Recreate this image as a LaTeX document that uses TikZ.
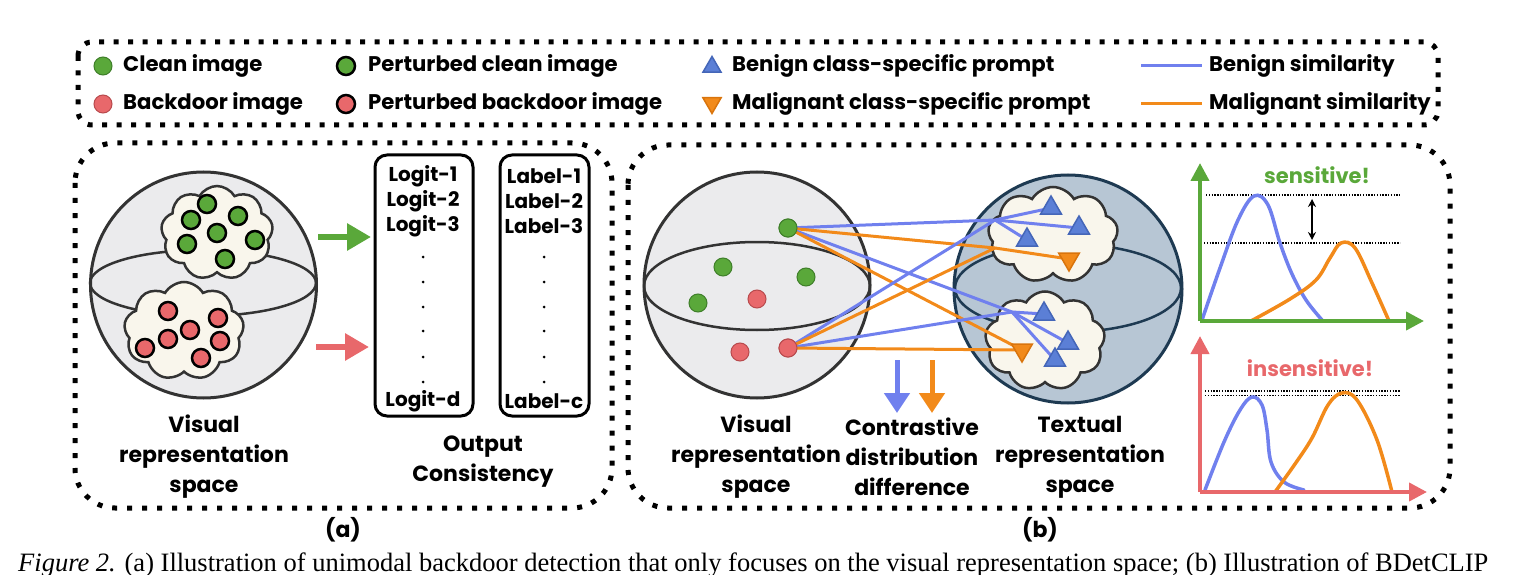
\documentclass[tikz,border=0pt]{standalone}
\usepackage{fontspec}
\setmainfont{Poppins}
\newfontfamily\capfont{Liberation Serif}
\usetikzlibrary{shapes.symbols,shapes.geometric,arrows.meta}
\definecolor{cgreen}{HTML}{5AA83A}
\definecolor{cgreenE}{HTML}{3F7F2A}
\definecolor{cred}{HTML}{E8686B}
\definecolor{credE}{HTML}{B84A4D}
\definecolor{cblue}{HTML}{7080EE}
\definecolor{corange}{HTML}{F28A1A}
\definecolor{tblue}{HTML}{5B7FD6}
\definecolor{tblueE}{HTML}{4466B8}
\definecolor{torangeE}{HTML}{D9740C}
\definecolor{sgray}{HTML}{EBEBED}
\definecolor{edgec}{HTML}{333333}
\definecolor{tsph}{HTML}{B7C6D4}
\definecolor{tsphE}{HTML}{1E3A52}
\definecolor{cloudc}{HTML}{F9F6EC}
\begin{document}
\begin{tikzpicture}[x=1pt,y=-1pt,
  frame/.style={draw=black,line width=5pt,dash pattern=on 5pt off 10pt,rounded corners=40pt},
  lframe/.style={draw=black,line width=5pt,dash pattern=on 5pt off 9.5pt,rounded corners=14pt},
  sphere/.style={circle,draw=edgec,fill=sgray,line width=3pt,minimum size=226pt,inner sep=0pt},
  tsphere/.style={circle,draw=tsphE,fill=tsph,line width=3pt,minimum size=228pt,inner sep=0pt},
  cloudn/.style={cloud,cloud puffs=9,cloud puff arc=120,draw=edgec,fill=cloudc,line width=2.5pt,inner sep=0pt},
  gdot/.style={circle,fill=cgreen,draw=cgreenE,line width=1pt,minimum size=18pt,inner sep=0pt},
  rdot/.style={circle,fill=cred,draw=credE,line width=1pt,minimum size=18pt,inner sep=0pt},
  pgdot/.style={circle,fill=cgreen,draw=black,line width=2.5pt,minimum size=18pt,inner sep=0pt},
  prdot/.style={circle,fill=cred,draw=black,line width=2.5pt,minimum size=18pt,inner sep=0pt},
  tup/.style={regular polygon,regular polygon sides=3,fill=tblue,draw=tblueE,line width=1.5pt,minimum size=24pt,inner sep=0pt},
  tdown/.style={regular polygon,regular polygon sides=3,shape border rotate=180,fill=corange,draw=torangeE,line width=1.5pt,minimum size=24pt,inner sep=0pt},
  bline/.style={draw=cblue,line width=3pt},
  oline/.style={draw=corange,line width=3pt},
  legtxt/.style={anchor=west,inner sep=0pt,font=\fontsize{21.2}{24}\selectfont\bfseries},
  lbl/.style={align=center,inner sep=0pt,font=\fontsize{22}{30}\selectfont\bfseries},
  listbox/.style={draw=black,line width=3pt,rounded corners=12pt},
  ltxt/.style={inner sep=0pt,font=\fontsize{20}{22}\selectfont\bfseries},
  bigarrow/.style={line width=6pt,-{Triangle[length=24pt,width=26pt]}},
  axis/.style={line width=4pt,-{Triangle[length=18pt,width=18pt]}},
  dline/.style={draw=black,line width=1.3pt,dash pattern=on 1.4pt off 1.4pt},
  curve/.style={line width=3.5pt,line cap=round}
]
\useasboundingbox (0,0) rectangle (1535,575);
\clip (0,0) rectangle (1535,575);
% ---------------- legend ----------------
\draw[lframe] (78,42) rectangle (1438,125);
\node[gdot] (lg1) at (103,66) {};
\node[legtxt] (lt1) at (123,66) {Clean image};
\node[rdot] (lg2) at (103,104) {};
\node[legtxt] (lt2) at (123,104) {Backdoor image};
\node[pgdot] (lg3) at (346,66) {};
\node[legtxt] (lt3) at (368,66) {Perturbed clean image};
\node[prdot] (lg4) at (346,104) {};
\node[legtxt] (lt4) at (368,104) {Perturbed backdoor image};
\node[tup,minimum size=21pt] (lg5) at (712,67) {};
\node[legtxt] (lt5) at (732,66) {Benign class-specific prompt};
\node[tdown,minimum size=21pt] (lg6) at (712,103) {};
\node[legtxt] (lt6) at (732,104) {Malignant class-specific prompt};
\coordinate (lb1) at (1141,66); \coordinate (lb2) at (1202,66);
\draw[bline] (lb1) -- (lb2);
\node[legtxt] (lt7) at (1209,66) {Benign similarity};
\coordinate (lo1) at (1141,104); \coordinate (lo2) at (1202,104);
\draw[oline] (lo1) -- (lo2);
\node[legtxt] (lt8) at (1209,104) {Malignant similarity};
% ---------------- panel (a) ----------------
\draw[frame] (75,143) rectangle (612,508);
\node[sphere] (vsa) at (203.5,285) {};
\draw[edgec,line width=2.5pt] (203,283) ellipse [x radius=113,y radius=33];
\node[cloudn,minimum width=112pt,minimum height=94pt] (gca) at (217,233) {};
\node[cloudn,minimum width=120pt,minimum height=98pt] (rca) at (184,331) {};
\foreach \n/\p in {1/{(207,204)},2/{(191,220)},3/{(238,216)},4/{(217,233)},5/{(187,244)},6/{(255,240)},7/{(225,259)}}
  \node[pgdot] (ga\n) at \p {};
\foreach \n/\p in {1/{(168,311)},2/{(218,318)},3/{(190,330)},4/{(168,339)},5/{(145,348)},6/{(220,341)},7/{(201,358)}}
  \node[prdot] (ra\n) at \p {};
\coordinate (gs) at (318,237); \coordinate (ge) at (371,237);
\draw[bigarrow,cgreen] (gs) -- (ge);
\coordinate (rs) at (316,347); \coordinate (re) at (369,347);
\draw[bigarrow,cred] (rs) -- (re);
\draw[listbox] (375,155) rectangle (473,416);
\draw[listbox] (500,155) rectangle (589,416);
\node[ltxt] (lo1a) at (423,176) {Logit-1};
\node[ltxt] (lo2a) at (423,201) {Logit-2};
\node[ltxt] (lo3a) at (423,226) {Logit-3};
\node[ltxt] (lodd) at (423,401) {Logit-d};
\node[ltxt] (la1a) at (544,176) {Label-1};
\node[ltxt] (la2a) at (544,201) {Label-2};
\node[ltxt] (la3a) at (544,226) {Label-3};
\node[ltxt] (lacc) at (544,401) {Label-c};
\foreach \yy [count=\k] in {257,282,307,331,357,382}{
  \node[circle,fill=black,inner sep=0pt,minimum size=3pt] (dl\k) at (423,\yy) {};
  \node[circle,fill=black,inner sep=0pt,minimum size=3pt] (dr\k) at (544,\yy) {};
}
\node[lbl] (vra) at (204,457) {Visual\\representation\\space};
\node[lbl] (oca) at (483,462) {Output\\Consistency};
\node[lbl] (capa) at (343,530) {(a)};
% ---------------- panel (b) ----------------
\draw[frame] (628,145) rectangle (1450,508);
\node[sphere] (vsb) at (757,285) {};
\draw[edgec,line width=2.5pt] (757,286) ellipse [x radius=113,y radius=44];
\node[tsphere] (tsb) at (1068,289) {};
\draw[tsphE,line width=2.5pt] (1068,288) ellipse [x radius=113,y radius=44];
\node[cloudn,minimum width=130pt,minimum height=96pt] (tca) at (1053,235) {};
\node[cloudn,minimum width=120pt,minimum height=99pt] (bca) at (1045,341) {};
% points
\node[gdot] (G) at (788,228) {};
\node[gdot] (g2) at (723,267) {};
\node[gdot] (g3) at (806,277) {};
\node[gdot] (g4) at (698,303) {};
\node[rdot] (r1) at (757,299) {};
\node[rdot] (r2) at (740,352) {};
\node[rdot] (R) at (788,348) {};
% hubs
\coordinate (HTB) at (995,220);
\coordinate (HTO) at (995,248);
\coordinate (HBB) at (1012,312);
% triangles positions
\coordinate (pTB1) at (1051,208);
\coordinate (pTB2) at (1079,228);
\coordinate (pTB3) at (1027,240);
\coordinate (pTO) at (1069,259);
\coordinate (pBB1) at (1044,314);
\coordinate (pBB2) at (1068,343);
\coordinate (pBB3) at (1055,360);
\coordinate (pBO) at (1022,350);
% lines
\draw[bline] (G.center) -- (HTB);
\draw[oline] (G.center) -- (HTO);
\draw[bline] (G.center) -- (HBB);
\draw[oline] (G.center) -- (pBO);
\draw[bline] (R.center) -- (HTB);
\draw[oline] (R.center) -- (HTO);
\draw[bline] (R.center) -- (HBB);
\draw[oline] (R.center) -- (pBO);
\draw[oline] (HTO) -- (pTO);
\draw[bline] (HTB) -- (pTB1);
\draw[bline] (HTB) -- (pTB2);
\draw[bline] (HTB) -- (pTB3);
\draw[bline] (HBB) -- (pBB1);
\draw[bline] (HBB) -- (pBB2);
\draw[bline] (HBB) -- (pBB3);
\node[gdot] at (G) {};
\node[rdot] at (R) {};
\node[tup] (TB1) at (pTB1) {};
\node[tup] (TB2) at (pTB2) {};
\node[tup] (TB3) at (pTB3) {};
\node[tdown] (TO) at (pTO) {};
\node[tup] (BB1) at (pBB1) {};
\node[tup] (BB2) at (pBB2) {};
\node[tup] (BB3) at (pBB3) {};
\node[tdown] (BO) at (pBO) {};
% contrastive arrows
\coordinate (ab1) at (897,360); \coordinate (ab2) at (897,413);
\coordinate (ao1) at (932,360); \coordinate (ao2) at (932,413);
\draw[line width=5pt,cblue,-{Triangle[length=20pt,width=25pt]}] (ab1) -- (ab2);
\draw[line width=5pt,corange,-{Triangle[length=20pt,width=25pt]}] (ao1) -- (ao2);
\node[lbl] (vrb) at (756,457) {Visual\\representation\\space};
\node[lbl] (cdd) at (912,457) {Contrastive\\distribution\\difference};
\node[lbl] (trb) at (1080,457) {Textual\\representation\\space};
\node[lbl] (capb) at (1040,530) {(b)};
% ---- top chart ----
\coordinate (o1) at (1200,321);
\coordinate (y1) at (1200,163);
\coordinate (x1) at (1424,321);
\draw[dline] (1206,195) -- (1400,195);
\draw[dline] (1204,243) -- (1400,243);
\draw[curve,cblue] plot[smooth,tension=0.6] coordinates {(1202,320) (1220,268) (1238,220) (1254,196) (1268,205) (1280,243) (1292,274) (1306,300) (1322,320)};
\draw[curve,corange] plot[smooth,tension=0.6] coordinates {(1251,321) (1290,299) (1316,280) (1330,258) (1341,243) (1355,248) (1372,283) (1389,321)};
\draw[axis,cgreen] (o1) -- (y1);
\draw[axis,cgreen] (o1) -- (x1);
\coordinate (da1) at (1312,199); \coordinate (da2) at (1312,240);
\draw[line width=1.6pt,{Stealth[length=8pt,width=8pt]}-{Stealth[length=8pt,width=8pt]}] (da1) -- (da2);
\node[inner sep=0pt,text=cgreen,font=\fontsize{21}{24}\selectfont\bfseries] (sens) at (1317,175) {sensitive!};
% ---- bottom chart ----
\coordinate (o2) at (1200,492);
\coordinate (y2) at (1200,336);
\coordinate (x2) at (1427,492);
\draw[dline] (1205,391) -- (1400,391);
\draw[dline] (1205,395.5) -- (1400,395.5);
\draw[curve,cblue] plot[smooth,tension=0.6] coordinates {(1205,490) (1224,442) (1240,410) (1252,397) (1262,405) (1267,430) (1271,462) (1284,482) (1304,490)};
\draw[curve,corange] plot[smooth,tension=0.6] coordinates {(1275,492) (1295,464) (1312,438) (1328,405) (1342,393) (1357,400) (1377,440) (1392,492)};
\draw[axis,cred] (o2) -- (y2);
\draw[axis,cred] (o2) -- (x2);
\node[inner sep=0pt,text=cred,font=\fontsize{21}{24}\selectfont\bfseries] (insens) at (1310,368) {insensitive!};
% ---- caption ----
\node[anchor=base west,inner sep=0pt,font=\capfont\fontsize{26.5}{30}\selectfont] (cap) at (18,571) {\textit{Figure 2.} (a) Illustration of unimodal backdoor detection that only focuses on the visual representation space; (b) Illustration of BDetCLIP};
\end{tikzpicture}
\end{document}
